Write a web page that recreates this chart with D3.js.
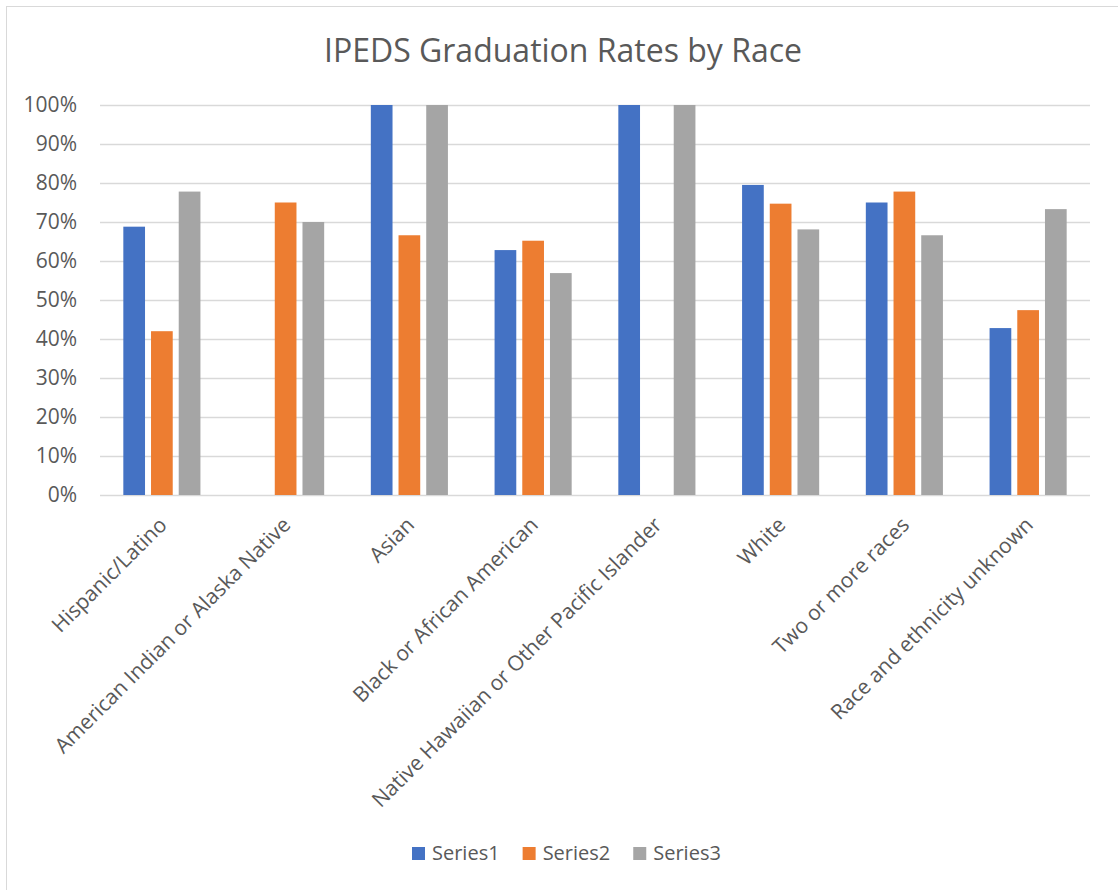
<!DOCTYPE html>
<html>
<head>
<meta charset="utf-8">
<script src="https://cdn.jsdelivr.net/npm/d3@7"></script>
<style>
  body { margin: 0; background: #fff; }
  text { font-family: "Open Sans", "Noto Sans", sans-serif; fill: #595959; }
</style>
</head>
<body>
<svg width="1118" height="890"></svg>
<script>
// chart values
var categories = ["Hispanic/Latino", "American Indian or Alaska Native", "Asian",
  "Black or African American", "Native Hawaiian or Other Pacific Islander",
  "White", "Two or more races", "Race and ethnicity unknown"];
var seriesNames = ["Series1", "Series2", "Series3"];
var series1 = [0.688, null, 1.00, 0.628, 1.00, 0.795, 0.750, 0.428];
var series2 = [0.420, 0.750, 0.666, 0.652, null, 0.747, 0.778, 0.474];
var series3 = [0.778, 0.700, 1.00, 0.569, 1.00, 0.681, 0.666, 0.733];
var yTicks = [0, 0.1, 0.2, 0.3, 0.4, 0.5, 0.6, 0.7, 0.8, 0.9, 1.0];
var colors = ["#4472C4", "#ED7D31", "#A5A5A5"];

var allSeries = [series1, series2, series3];

var svg = d3.select("svg");

// chart area border (only left/top visible in the crop)
svg.append("rect")
  .attr("x", 6.5).attr("y", 6.5)
  .attr("width", 1130).attr("height", 900)
  .attr("fill", "none")
  .attr("stroke", "#d9d9d9");

svg.append("text")
  .attr("x", 563).attr("y", 62)
  .attr("text-anchor", "middle")
  .style("font-size", "32px")
  .text("IPEDS Graduation Rates by Race");

var x = d3.scaleBand()
  .domain(categories)
  .range([100, 1090]);

var y = d3.scaleLinear()
  .domain([0, 1])
  .range([495, 105]);

var barW = 21.7, step = 27.7;

// gridlines
svg.append("g")
  .selectAll("line")
  .data(yTicks)
  .enter().append("line")
  .attr("x1", 100).attr("x2", 1090)
  .attr("y1", function(d) { return Math.round(y(d)) + 0.5; })
  .attr("y2", function(d) { return Math.round(y(d)) + 0.5; })
  .attr("stroke", "#d9d9d9")
  .attr("stroke-width", 1.3);

// y axis labels
var yAxis = d3.axisLeft(y)
  .tickValues(yTicks)
  .tickFormat(d3.format(".0%"))
  .tickSize(0)
  .tickPadding(0);

var ya = svg.append("g")
  .attr("transform", "translate(77,0)")
  .call(yAxis);
ya.select(".domain").remove();
ya.selectAll("text")
  .style("font-size", "21px")
  .style("font-family", null)
  .attr("fill", null);

// bars
allSeries.forEach(function(vals, si) {
  svg.append("g")
    .selectAll("rect")
    .data(vals.map(function(v, i) { return {cat: categories[i], v: v}; })
      .filter(function(d) { return d.v != null; }))
    .enter().append("rect")
    .attr("x", function(d) { return x(d.cat) + x.bandwidth() / 2 + (si - 1) * step - barW / 2; })
    .attr("y", function(d) { return y(d.v); })
    .attr("width", barW)
    .attr("height", function(d) { return y(0) - y(d.v); })
    .attr("fill", colors[si]);
});

// category labels, rotated
svg.append("g")
  .selectAll("text")
  .data(categories)
  .enter().append("text")
  .attr("transform", function(d) {
    return "translate(" + (x(d) + x.bandwidth() / 2 + 1) + ",521) rotate(-45)";
  })
  .attr("text-anchor", "end")
  .attr("dy", "0.35em")
  .style("font-size", "21px")
  .text(function(d) { return d; });

// legend
var legend = svg.append("g");
var lx = 412;
seriesNames.forEach(function(name, i) {
  legend.append("rect")
    .attr("x", lx).attr("y", 847)
    .attr("width", 13).attr("height", 13)
    .attr("fill", colors[i]);
  var t = legend.append("text")
    .attr("x", lx + 20).attr("y", 860)
    .style("font-size", "20px")
    .text(name);
  lx += 20 + t.node().getComputedTextLength() + 23;
});
</script>
</body>
</html>
